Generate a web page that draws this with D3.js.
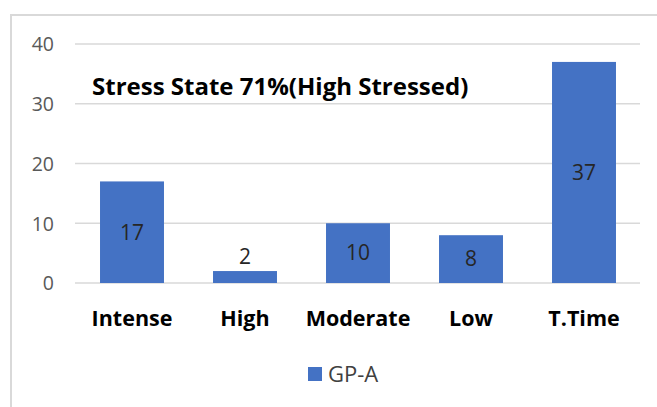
<!DOCTYPE html>
<html><head><meta charset="utf-8">
<script src="https://cdn.jsdelivr.net/npm/d3@7"></script>
<style>html,body{margin:0;padding:0;background:#fff;}</style>
</head><body>
<svg id="c" width="657" height="407"></svg>
<script>
const categories = ["Intense", "High", "Moderate", "Low", "T.Time"];
const values = [17, 2, 10, 8, 37];
const yTicks = [0, 10, 20, 30, 40];
const seriesName = "GP-A";
const title = "Stress State 71%(High Stressed)";

const svg = d3.select("#c");
const font = "'Open Sans', 'Noto Sans', sans-serif";

// chart area border
svg.append("rect").attr("x", 11).attr("y", 15).attr("width", 700).attr("height", 500)
  .attr("fill", "#fff").attr("stroke", "#d9d9d9").attr("stroke-width", 2);

const x = d3.scaleBand().domain(categories).range([75.5, 640.5]).paddingInner(0.434).paddingOuter(0.217);
const y = d3.scaleLinear().domain([0, 40]).range([283, 44]);

// gridlines
svg.append("g").selectAll("line").data(yTicks).join("line")
  .attr("x1", 75).attr("x2", 640)
  .attr("y1", d => y(d)).attr("y2", d => y(d))
  .attr("stroke", "#d9d9d9").attr("stroke-width", 1.5);

// y axis labels
const yAxis = d3.axisLeft(y).tickValues(yTicks).tickSize(0).tickPadding(0);
const ya = svg.append("g").attr("transform", "translate(54,0)").call(yAxis);
ya.select(".domain").remove();
ya.selectAll("text").attr("font-family", font).attr("font-size", 19.5).attr("fill", "#595959").attr("dy", "0.35em");

// bars
svg.append("g").selectAll("rect").data(values).join("rect")
  .attr("x", (d, i) => x(categories[i]))
  .attr("width", x.bandwidth())
  .attr("y", d => y(d))
  .attr("height", d => y(0) - y(d))
  .attr("fill", "#4472c4");

// data labels
svg.append("g").selectAll("text").data(values).join("text")
  .attr("x", (d, i) => x(categories[i]) + x.bandwidth() / 2)
  .attr("y", d => (y(0) - y(d)) < 30 ? y(d) - 14 : (y(d) + y(0)) / 2)
  .attr("dy", "0.35em")
  .attr("text-anchor", "middle")
  .attr("font-family", font).attr("font-size", 21).attr("fill", "#262626")
  .text(d => d);

// x axis labels
const xAxis = d3.axisBottom(x).tickSize(0).tickPadding(0);
const xa = svg.append("g").attr("transform", "translate(0,318)").call(xAxis);
xa.select(".domain").remove();
xa.selectAll("text").attr("font-family", font).attr("font-size", 21.5).attr("font-weight", "bold")
  .attr("fill", "#000").attr("dy", "0.35em").attr("y", 0);

// title
svg.append("text").attr("x", 92).attr("y", 95)
  .attr("font-family", font).attr("font-size", 24).attr("font-weight", "bold").attr("fill", "#000")
  .text(title);

// legend
const lg = svg.append("g").attr("transform", "translate(308,367)");
lg.append("rect").attr("width", 14).attr("height", 14).attr("fill", "#4472c4");
lg.append("text").attr("x", 20).attr("y", 7).attr("dy", "0.35em")
  .attr("font-family", font).attr("font-size", 22).attr("fill", "#404040").text(seriesName);
</script>
</body></html>
